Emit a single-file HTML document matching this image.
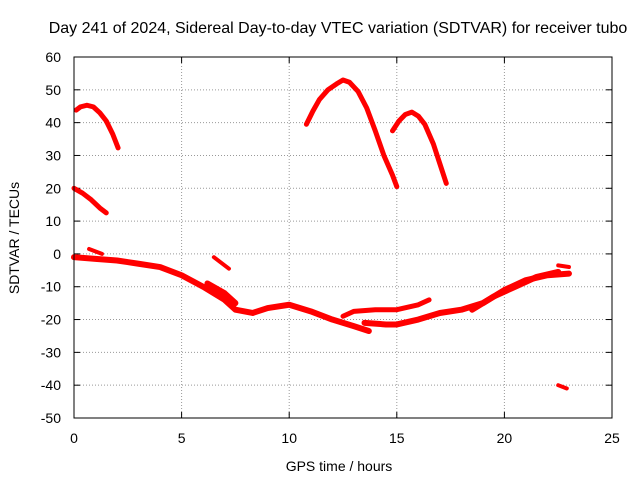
<!DOCTYPE html>
<html><head><meta charset="utf-8"><style>
body{margin:0;background:#fff}
svg text{font-family:"Liberation Sans",sans-serif;font-size:14px;fill:#000}
</style></head><body>
<svg id="chart" width="640" height="480">
<text x="338" y="33" text-anchor="middle" style="font-size:16px">Day 241 of 2024, Sidereal Day-to-day VTEC variation (SDTVAR) for receiver tubo</text>
<g id="grid"></g>
<g id="axes"></g>
<g id="series"></g>
<rect x="74" y="57" width="538" height="361" fill="none" stroke="#000" stroke-width="1"/>
<text x="339" y="471" text-anchor="middle">GPS time / hours</text>
<text transform="translate(19,238) rotate(-90)" text-anchor="middle">SDTVAR / TECUs</text>
</svg>
<script>
const xTicks=[0,5,10,15,20,25];
const yTicks=[-50,-40,-30,-20,-10,0,10,20,30,40,50,60];
const trace1=[[0.1,43.8],[0.3,44.8],[0.6,45.3],[0.9,44.8],[1.2,43],[1.5,40.5],[1.8,36.5],[2.05,32.3]];
const trace2=[[0,20],[0.4,18.5],[0.8,16.5],[1.2,14],[1.5,12.5]];
const trace3=[[10.8,39.5],[11.1,43.5],[11.4,47],[11.8,50],[12.2,51.8],[12.5,53],[12.8,52.3],[13.2,49.5],[13.6,44.5],[14,37.5],[14.4,30],[14.8,24],[15,20.5]];
const trace4=[[14.8,37.5],[15.1,40.5],[15.4,42.5],[15.7,43.2],[16,42],[16.3,39.5],[16.7,33.5],[17,27.5],[17.3,21.5]];
const trace5=[[0,-1],[1,-1.5],[2,-2],[3,-3],[4,-4],[5,-6.5],[6,-10],[7,-14],[7.5,-17],[8.3,-18],[9,-16.5],[10,-15.5],[11,-17.5],[12,-20],[13,-22],[13.7,-23.5]];
const trace6=[[0.7,1.5],[1.3,0]];
const trace7=[[6.5,-1],[7.2,-4.5]];
const trace8=[[12.5,-19],[13,-17.5],[14,-17],[15,-17],[16,-15.5],[16.5,-14]];
const trace9=[[13.5,-21],[14.5,-21.5],[15,-21.5],[16,-20],[17,-18],[18,-17],[19,-15],[20,-11],[21,-8],[22,-6.5],[23,-6]];
const trace10=[[6.2,-9],[7,-12],[7.5,-15]];
const trace11=[[18.5,-17],[19.5,-13],[20.5,-10],[21.5,-7],[22.5,-5.5]];
const trace12=[[22.5,-3.5],[23,-4]];
const trace13=[[22.5,-40],[22.9,-41]];
const traces=[trace1,trace2,trace3,trace4,trace5,trace6,trace7,trace8,trace9,trace10,trace11,trace12,trace13];
const widths=[5,5,5,5,6,4,4,5,6,6,6,4,4];
const X0=74,X1=612,Y0=418,Y1=57;
const xs=v=>X0+(v-0)/(25-0)*(X1-X0);
const ys=v=>Y0-(v+50)/(110)*(Y0-Y1);
const NS="http://www.w3.org/2000/svg";
const grid=document.getElementById('grid'),axes=document.getElementById('axes'),ser=document.getElementById('series');
function mk(tag,attrs,parent){const e=document.createElementNS(NS,tag);for(const k in attrs)e.setAttribute(k,attrs[k]);parent.appendChild(e);return e;}
xTicks.forEach(t=>{const x=xs(t);
 if(t>0&&t<25){const g=mk('line',{x1:x,x2:x,y1:Y1,y2:Y0,stroke:'#999','stroke-dasharray':'1,2','stroke-width':1},grid);
 
 }
 const l=mk('text',{x:x,y:Y0+25,'text-anchor':'middle'},axes);l.textContent=t;
 
 
 mk('line',{x1:x,x2:x,y1:Y0,y2:Y0-6,stroke:'#000'},axes);mk('line',{x1:x,x2:x,y1:Y1,y2:Y1+6,stroke:'#000'},axes);});
yTicks.forEach(t=>{const y=ys(t);
 if(t>-50&&t<60){const g=mk('line',{x1:X0,x2:X1,y1:y,y2:y,stroke:'#999','stroke-dasharray':'1,2','stroke-width':1},grid);
 
 }
 const l=mk('text',{x:X0-13,y:y+5,'text-anchor':'end'},axes);l.textContent=t;
 
 
 mk('line',{x1:X0,x2:X0+6,y1:y,y2:y,stroke:'#000'},axes);mk('line',{x1:X1,x2:X1-6,y1:y,y2:y,stroke:'#000'},axes);});
traces.forEach((tr,i)=>{
 const p=mk('polyline',{points:tr.map(d=>xs(d[0])+','+ys(d[1])).join(' '),fill:'none',stroke:'#f00','stroke-width':widths[i],'stroke-linejoin':'round','stroke-linecap':'round'},ser);
 
 
});
</script>
</body></html>
